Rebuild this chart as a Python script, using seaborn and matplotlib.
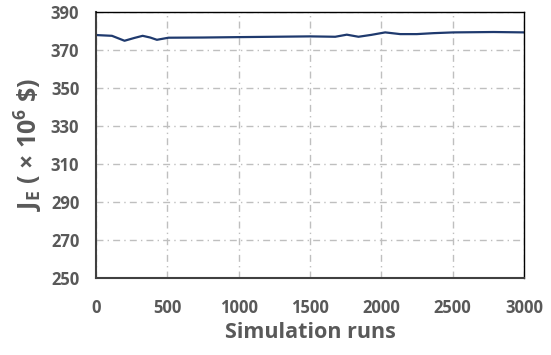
import matplotlib
matplotlib.use("Agg")
import matplotlib.pyplot as plt
import seaborn as sns
import pandas as pd

# Expected cost J_E versus number of simulation runs
runs = [0, 112, 200, 270, 327, 380, 427, 508, 750, 988, 1250, 1500, 1677, 1758, 1840,
        1930, 2027, 2132, 2249, 2366, 2506, 2650, 2787, 3000]
cost = [377.9, 377.5, 374.9, 376.4, 377.5, 376.6, 375.4, 376.5, 376.6, 376.8, 377.0,
        377.2, 377.0, 378.1, 377.0, 378.0, 379.3, 378.4, 378.4, 378.9, 379.3, 379.4,
        379.5, 379.3]

x_ticks = [0, 500, 1000, 1500, 2000, 2500, 3000]
y_ticks = [250, 270, 290, 310, 330, 350, 370, 390]

sns.set_theme(style="white")
plt.rcParams["font.family"] = ["Open Sans", "DejaVu Sans"]
plt.rcParams["mathtext.fontset"] = "custom"
plt.rcParams["mathtext.rm"] = "Open Sans:bold"
plt.rcParams["mathtext.bf"] = "Open Sans:bold"

df = pd.DataFrame({"runs": runs, "cost": cost})

fig = plt.figure(figsize=(5.51, 3.55), dpi=100)
ax = fig.add_axes([0.1742, 0.2169, 0.951 - 0.1742, 0.966 - 0.2169])

sns.lineplot(data=df, x="runs", y="cost", ax=ax, color="#1f3a6e", linewidth=1.6)

ax.set_xlim(0, 3000)
ax.set_ylim(250, 390)
ax.set_xticks(x_ticks)
ax.set_yticks(y_ticks)

grid_kw = dict(color="#bfbfbf", linestyle=(0, (5, 3, 1, 3)), linewidth=1.0)
ax.grid(True, **grid_kw)
ax.set_axisbelow(True)

for s in ax.spines.values():
    s.set_visible(True)
    s.set_color("black")
    s.set_linewidth(1.0)
ax.spines["left"].set_color("#404040")
ax.spines["bottom"].set_color("#404040")
ax.spines["left"].set_linewidth(1.5)
ax.spines["bottom"].set_linewidth(1.5)

tick_col = "#595959"
ax.tick_params(axis="both", length=0, labelsize=12, labelcolor=tick_col)
ax.tick_params(axis="x", pad=15)
ax.tick_params(axis="y", pad=12)
for lab in ax.get_xticklabels() + ax.get_yticklabels():
    lab.set_fontweight("bold")

ax.set_xlabel("Simulation runs", fontsize=15.5, fontweight="bold", color=tick_col, labelpad=4)
ax.set_ylabel(r"J$_{\mathregular{E}}$ ( × 10$^{\mathregular{6}}$ \$)", fontsize=18,
              fontweight="bold", color=tick_col, labelpad=5)

fig.savefig("out.png", dpi=100)
